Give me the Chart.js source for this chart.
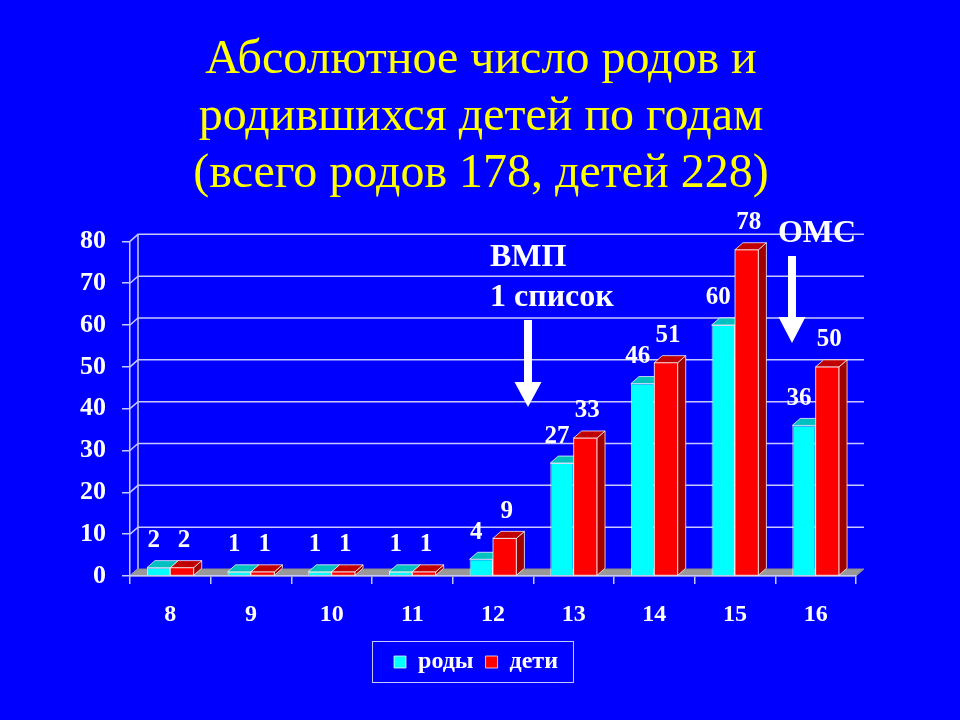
<!DOCTYPE html>
<html>
<head>
<meta charset="utf-8">
<script src="https://cdn.jsdelivr.net/npm/chart.js@4"></script>
<style>
  html, body { margin: 0; padding: 0; background: #0000ff; }
  canvas { display: block; }
</style>
</head>
<body>
<canvas id="birthChart" width="960" height="720"></canvas>
<script>
// data
const years = ['8', '9', '10', '11', '12', '13', '14', '15', '16'];
const births = [2, 1, 1, 1, 4, 27, 46, 60, 36];     // роды
const children = [2, 1, 1, 1, 9, 33, 51, 78, 50];   // дети
const yMax = 80;
const yStep = 10;

const serif = "'Liberation Serif', 'Times New Roman', serif";
const lineCol = '#c8c8ff';
const dx = 8, dy = 7; // depth of the fake 3d

const faceCols = [
    { front: '#00ffff', top: '#00c0c0', side: '#009a9a' },
    { front: '#ff0000', top: '#c00000', side: '#a00000' }
];

function poly(ctx, pts, fill) {
    ctx.beginPath();
    ctx.moveTo(pts[0][0], pts[0][1]);
    for (let i = 1; i < pts.length; i++) ctx.lineTo(pts[i][0], pts[i][1]);
    ctx.closePath();
    ctx.fillStyle = fill;
    ctx.fill();
    ctx.stroke();
}

// back wall, floor and the grid lines pushed to the back
const wall3d = {
    id: 'wall3d',
    afterLayout(chart) {
        // title and legend sit a bit right of the plot centre on the slide
        chart.legend.left += 8;
        chart.legend.right += 8;
        chart.titleBlock.left += 13;
        chart.titleBlock.right += 13;
    },
    beforeDraw(chart) {
        const { ctx, chartArea: a, scales: { y } } = chart;
        ctx.save();
        ctx.strokeStyle = lineCol;
        ctx.lineWidth = 1.5;
        y.ticks.forEach(t => {
            const py = y.getPixelForValue(t.value);
            ctx.beginPath();
            ctx.moveTo(a.left, py);
            ctx.lineTo(a.left + dx, py - dy);
            if (t.value > 0) ctx.lineTo(a.right + dx, py - dy);
            ctx.stroke();
        });
        ctx.beginPath();
        ctx.moveTo(a.left + dx, a.top - dy);
        ctx.lineTo(a.left + dx, a.bottom - dy);
        ctx.stroke();
        // floor
        ctx.lineWidth = 1;
        ctx.strokeStyle = '#8a8a8a';
        poly(ctx, [[a.left, a.bottom], [a.right, a.bottom], [a.right + dx, a.bottom - dy], [a.left + dx, a.bottom - dy]], '#999999');
        ctx.restore();
    }
};

// tops, sides, value labels
const bars3d = {
    id: 'bars3d',
    afterDatasetsDraw(chart) {
        const { ctx } = chart;
        const metas = [chart.getDatasetMeta(0), chart.getDatasetMeta(1)];
        const values = [births, children];
        ctx.save();
        ctx.lineWidth = 1;
        ctx.strokeStyle = 'rgba(255,255,255,0.75)';
        for (let i = 0; i < years.length; i++) {
            metas.forEach((meta, k) => {
                const b = meta.data[i];
                const l = b.x - b.width / 2, r = b.x + b.width / 2, t = b.y, base = b.base;
                const c = faceCols[k];
                if (k === 1) {
                    ctx.fillStyle = c.front;
                    ctx.fillRect(l, t, r - l, base - t);
                    ctx.strokeRect(l, t, r - l, base - t);
                }
                poly(ctx, [[r, t], [r + dx, t - dy], [r + dx, base - dy], [r, base]], c.side);
                poly(ctx, [[l, t], [r, t], [r + dx, t - dy], [l + dx, t - dy]], c.top);
            });
        }
        // value labels
        ctx.fillStyle = '#ffffff';
        ctx.font = 'bold 25px ' + serif;
        ctx.textAlign = 'center';
        ctx.textBaseline = 'middle';
        metas.forEach((meta, k) => {
            meta.data.forEach((b, i) => {
                const shift = k === 0 ? -5 : 2;
                ctx.fillText(String(values[k][i]), b.x + shift, b.y - 27);
            });
        });
        ctx.restore();
    }
};

function arrow(ctx, cx, top, headTop, tip) {
    ctx.beginPath();
    ctx.moveTo(cx - 4, top);
    ctx.lineTo(cx + 4, top);
    ctx.lineTo(cx + 4, headTop);
    ctx.lineTo(cx + 13.5, headTop);
    ctx.lineTo(cx, tip);
    ctx.lineTo(cx - 13.5, headTop);
    ctx.lineTo(cx - 4, headTop);
    ctx.closePath();
    ctx.fill();
}

// slide notes: ВМП / ОМС with arrows
const notes = {
    id: 'notes',
    afterDraw(chart) {
        const { ctx } = chart;
        ctx.save();
        ctx.fillStyle = '#ffffff';
        ctx.font = 'bold 32px ' + serif;
        ctx.textBaseline = 'middle';
        ctx.textAlign = 'left';
        ctx.fillText('ВМП', 490, 258);
        ctx.fillText('1 список', 490, 298);
        ctx.textAlign = 'center';
        ctx.fillText('ОМС', 817, 234);
        arrow(ctx, 528, 320, 382, 407);
        arrow(ctx, 792, 256, 317, 343);

        // frame around the legend
        const boxes = chart.legend.legendHitBoxes;
        if (boxes && boxes.length) {
            const left = Math.min(...boxes.map(h => h.left)) - 22;
            const right = Math.max(...boxes.map(h => h.left + h.width)) + 15;
            const mid = boxes[0].top + boxes[0].height / 2;
            ctx.strokeStyle = lineCol;
            ctx.lineWidth = 1;
            ctx.strokeRect(left + 0.5, mid - 20.5, right - left, 41);
        }
        ctx.restore();
    }
};

const ctxBirths = document.getElementById('birthChart').getContext('2d');
const birthChart = new Chart(ctxBirths, {
    type: 'bar',
    data: {
        labels: years,
        datasets: [
            {
                label: 'роды',
                data: births,
                backgroundColor: faceCols[0].front,
                borderColor: 'rgba(255,255,255,0.75)',
                borderWidth: 1
            },
            {
                label: 'дети',
                data: children,
                backgroundColor: faceCols[1].front,
                borderColor: 'rgba(255,255,255,0.75)',
                borderWidth: 1
            }
        ]
    },
    options: {
        responsive: false,
        animation: false,
        categoryPercentage: 0.58,
        barPercentage: 1.0,
        layout: { padding: { left: 80, right: 104, top: 0, bottom: 36 } },
        plugins: {
            title: {
                display: true,
                text: ['Абсолютное число родов и', 'родившихся детей по годам', '(всего родов 178, детей 228)'],
                color: '#ffff00',
                font: { family: serif, size: 48, weight: 'normal', lineHeight: 1.19 },
                padding: { top: 32, bottom: 38 }
            },
            legend: {
                position: 'bottom',
                labels: {
                    color: '#ffffff',
                    font: { family: serif, size: 24, weight: 'bold' },
                    boxWidth: 12,
                    boxHeight: 12,
                    padding: 12
                }
            },
            tooltip: { enabled: false }
        },
        scales: {
            x: {
                afterFit: (s) => { s.height = 62; },
                grid: { drawOnChartArea: false, color: lineCol, lineWidth: 1.5, tickLength: 8 },
                border: { color: lineCol, width: 1.5 },
                ticks: { color: '#ffffff', font: { family: serif, size: 24, weight: 'bold' }, padding: 16 }
            },
            y: {
                min: 0,
                max: yMax,
                afterFit: (s) => { s.width = 50; },
                grid: { drawOnChartArea: false, color: lineCol, lineWidth: 1.5, tickLength: 8 },
                border: { color: lineCol, width: 1.5 },
                ticks: { stepSize: yStep, color: '#ffffff', font: { family: serif, size: 26, weight: 'bold' }, padding: 16 }
            }
        }
    },
    plugins: [wall3d, bars3d, notes]
});
</script>
</body>
</html>
